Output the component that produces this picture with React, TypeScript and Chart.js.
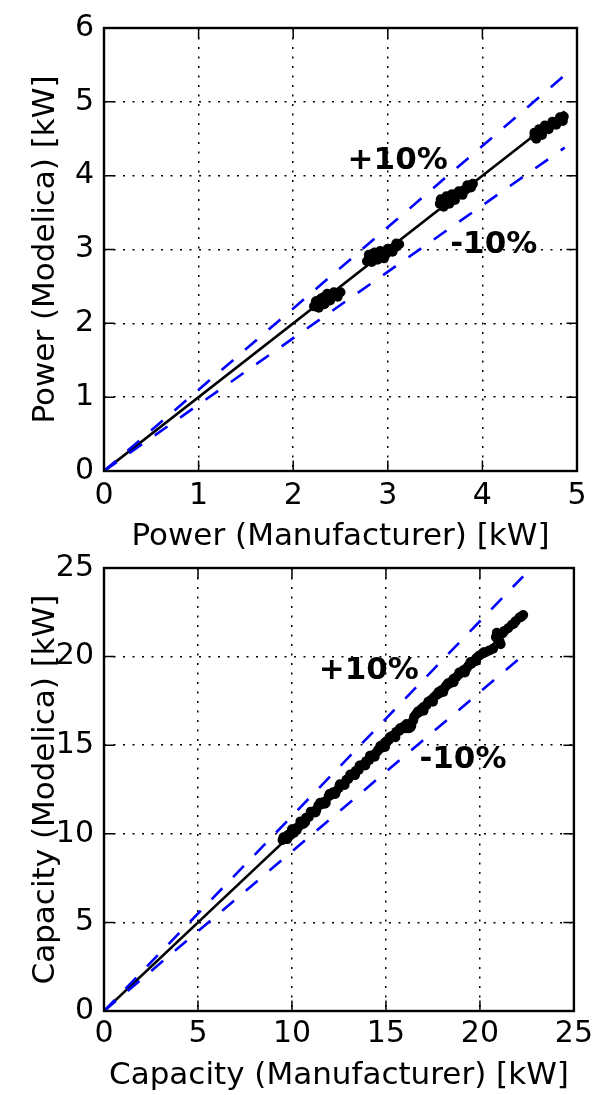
import React, { useEffect, useRef } from "react";
import { Chart, registerables } from "chart.js";

Chart.register(...registerables);

// ---------- Tick labels ----------
const powerTicksX = [0, 1, 2, 3, 4, 5];
const powerTicksY = [0, 1, 2, 3, 4, 5, 6];
const capacityTicksX = [0, 5, 10, 15, 20, 25];
const capacityTicksY = [0, 5, 10, 15, 20, 25];

// ---------- Power data (kW) ----------
const powerManufacturer = [
  2.22, 2.24, 2.26, 2.28, 2.25, 2.3, 2.32, 2.29, 2.34, 2.35, 2.33, 2.37, 2.38, 2.36, 2.4, 2.42, 2.44, 2.46, 2.48, 2.5,
  2.24, 2.27, 2.3, 2.33, 2.36, 2.39, 2.43, 2.47,
  2.78, 2.8, 2.82, 2.84, 2.83, 2.86, 2.88, 2.87, 2.9, 2.92, 2.94, 2.95, 2.97, 3.0, 3.02, 3.04, 3.06, 3.08, 3.1, 3.12,
  2.8, 2.83, 2.86, 2.89, 2.92, 2.96, 3.0, 3.05, 3.09,
  3.55, 3.57, 3.59, 3.6, 3.62, 3.63, 3.65, 3.66, 3.68, 3.7, 3.72, 3.74, 3.76, 3.78, 3.8, 3.82, 3.84, 3.86, 3.88, 3.9,
  3.56, 3.59, 3.62, 3.65, 3.68, 3.71, 3.75, 3.79, 3.84, 3.88,
  4.55, 4.57, 4.58, 4.6, 4.62, 4.63, 4.65, 4.67, 4.69, 4.71, 4.73, 4.75, 4.77, 4.79, 4.81, 4.83, 4.85, 4.86,
  4.55, 4.57, 4.6, 4.63, 4.66, 4.7, 4.74, 4.78, 4.82, 4.85,
];
const powerModelica = [
  2.23, 2.26, 2.24, 2.28, 2.3, 2.27, 2.31, 2.33, 2.29, 2.33, 2.36, 2.32, 2.35, 2.38, 2.36, 2.38, 2.37, 2.4, 2.41, 2.42,
  2.3, 2.21, 2.34, 2.26, 2.4, 2.31, 2.42, 2.36,
  2.84, 2.88, 2.86, 2.9, 2.93, 2.88, 2.92, 2.95, 2.89, 2.93, 2.91, 2.95, 2.92, 2.96, 2.98, 3.0, 3.02, 3.03, 3.05, 3.07,
  2.93, 2.83, 2.96, 2.86, 2.98, 2.88, 3.01, 2.97, 3.08,
  3.62, 3.66, 3.63, 3.68, 3.65, 3.7, 3.67, 3.71, 3.69, 3.72, 3.73, 3.75, 3.76, 3.78, 3.8, 3.81, 3.83, 3.85, 3.87, 3.89,
  3.68, 3.58, 3.72, 3.62, 3.75, 3.67, 3.79, 3.74, 3.87, 3.84,
  4.53, 4.57, 4.54, 4.59, 4.56, 4.61, 4.63, 4.64, 4.66, 4.67, 4.69, 4.7, 4.72, 4.73, 4.75, 4.76, 4.78, 4.8,
  4.58, 4.5, 4.63, 4.55, 4.68, 4.63, 4.73, 4.69, 4.79, 4.74,
];

// ---------- Capacity data (kW) ----------
const capacityManufacturer = [
  9.5, 9.6, 9.7, 9.8, 9.9, 10.0, 10.1, 10.2, 10.35, 10.5,
  10.6, 10.75, 10.9, 11.0, 11.15, 11.3, 11.4, 11.55, 11.7, 11.8,
  11.95, 12.1, 12.2, 12.35, 12.5, 12.6, 12.75, 12.9, 13.0, 13.15,
  13.3, 13.4, 13.55, 13.7, 13.8, 13.95, 14.1, 14.2, 14.35, 14.5,
  14.6, 14.75, 14.9, 15.0, 15.15, 15.3, 15.4, 15.55, 15.7, 15.8,
  15.95, 16.1, 16.2, 16.35, 16.5, 16.6, 16.75, 16.9, 17.0, 17.15,
  17.3, 17.4, 17.55, 17.7, 17.8, 17.95, 18.1, 18.2, 18.35, 18.5,
  18.6, 18.75, 18.9, 19.0, 19.15, 19.3, 19.4, 19.55, 19.7, 19.8,
  19.95, 20.1, 20.3, 20.5, 20.7, 20.85, 20.9, 21.0, 21.1, 21.3,
  21.5, 21.7, 21.9, 22.1, 22.3,
  9.55, 9.75, 10.0, 10.25, 10.45, 10.7, 11.0, 11.25, 11.5, 11.75,
  12.0, 12.3, 12.55, 12.8, 13.1, 13.35, 13.6, 13.9, 14.15, 14.4,
  14.7, 14.95, 15.2, 15.5, 15.75, 16.0, 16.3, 16.45, 16.7, 17.0,
  17.25, 17.5, 17.8, 18.05, 18.3, 18.6, 18.9, 19.2, 19.5, 19.8,
  20.2, 20.95, 21.05, 21.2, 21.8, 22.2,
];
const capacityModelica = [
  9.65, 9.75, 9.7, 9.95, 9.9, 10.1, 10.05, 10.3, 10.4, 10.6,
  10.55, 10.9, 10.95, 11.2, 11.25, 11.35, 11.6, 11.65, 11.8, 11.75,
  12.1, 12.2, 12.35, 12.4, 12.6, 12.75, 12.8, 13.05, 13.1, 13.3,
  13.4, 13.55, 13.6, 13.85, 13.9, 14.1, 14.15, 14.4, 14.45, 14.6,
  14.75, 14.85, 15.1, 15.2, 15.3, 15.5, 15.55, 15.75, 15.8, 15.95,
  16.05, 16.2, 15.95, 16.1, 16.6, 16.75, 16.85, 17.05, 17.15, 17.25,
  17.45, 17.55, 17.7, 17.85, 17.9, 18.1, 18.2, 18.35, 18.45, 18.6,
  18.75, 18.85, 19.0, 19.1, 19.25, 19.35, 19.5, 19.6, 19.75, 19.9,
  20.05, 20.15, 20.25, 20.35, 20.45, 21.1, 21.35, 21.15, 20.7, 21.45,
  21.6, 21.8, 22.0, 22.2, 22.35,
  9.8, 9.7, 10.25, 10.2, 10.7, 10.65, 11.25, 11.2, 11.75, 11.7,
  12.25, 12.25, 12.8, 12.75, 13.35, 13.3, 13.85, 13.85, 14.4, 14.35,
  14.95, 14.9, 15.45, 15.45, 15.95, 15.95, 16.0, 16.4, 16.9, 16.95,
  17.45, 17.45, 18.0, 18.0, 18.5, 18.55, 19.1, 19.1, 19.7, 19.75,
  20.25, 21.0, 20.85, 21.3, 21.85, 22.25,
];

// ---------- Reference lines (1:1 and ±10%) ----------
const powerLineX = [0, 4.87];
const powerLineY = [0, 4.87];
const powerUpperY = [0, 5.36];
const powerLowerY = [0, 4.38];
const capacityLineX = [0, 22.3];
const capacityLineY = [0, 22.3];
const capacityUpperY = [0, 24.53];
const capacityLowerY = [0, 20.07];

// ---------- Annotations (data coordinates, text baseline-left) ----------
const bandLabels = ["+10%", "-10%"];
const powerLabelX = [2.575, 3.66];
const powerLabelY = [4.09, 2.95];
const capacityLabelX = [11.42, 16.78];
const capacityLabelY = [18.74, 13.72];

const FONT = '"DejaVu Sans", "Liberation Sans", sans-serif';

const toPts = (xs: number[], ys: number[]) => xs.map((x, i) => ({ x, y: ys[i] }));

function makeFramePlugin(lx: number[], ly: number[]) {
  return {
    id: "frameAndLabels",
    afterDatasetsDraw(chart: any) {
      const { ctx, chartArea: a, scales } = chart;
      const sx = scales.x;
      const sy = scales.y;
      ctx.save();
      // annotations
      ctx.font = `bold 31px ${FONT}`;
      ctx.fillStyle = "#000";
      ctx.textAlign = "left";
      ctx.textBaseline = "alphabetic";
      bandLabels.forEach((t, i) => {
        ctx.fillText(t, sx.getPixelForValue(lx[i]), sy.getPixelForValue(ly[i]));
      });
      // inward ticks on all four sides
      const L = 10.5;
      ctx.strokeStyle = "#000";
      ctx.lineWidth = 1.5;
      ctx.beginPath();
      sx.ticks.forEach((t: any) => {
        const p = sx.getPixelForValue(t.value);
        ctx.moveTo(p, a.bottom);
        ctx.lineTo(p, a.bottom - L);
        ctx.moveTo(p, a.top);
        ctx.lineTo(p, a.top + L);
      });
      sy.ticks.forEach((t: any) => {
        const p = sy.getPixelForValue(t.value);
        ctx.moveTo(a.left, p);
        ctx.lineTo(a.left + L, p);
        ctx.moveTo(a.right, p);
        ctx.lineTo(a.right - L, p);
      });
      ctx.stroke();
      // frame
      ctx.lineWidth = 2.4;
      ctx.strokeRect(a.left, a.top, a.right - a.left, a.bottom - a.top);
      ctx.restore();
    },
  };
}

interface PanelCfg {
  height: number;
  topPad: number;
  xAxisHeight: number;
  xTickPad: number;
  xTitlePad: number;
  xMax: number;
  yMax: number;
  xTicks: number[];
  yTicks: number[];
  xTitle: string;
  yTitle: string;
  xs: number[];
  ys: number[];
  lineX: number[];
  lineY: number[];
  upperY: number[];
  lowerY: number[];
  labelX: number[];
  labelY: number[];
}

function buildConfig(c: PanelCfg): any {
  const dotted = [2, 7.5];
  return {
    type: "scatter",
    data: {
      datasets: [
        {
          data: toPts(c.lineX, c.upperY),
          showLine: true,
          borderColor: "#0000ff",
          borderWidth: 2.6,
          borderDash: [15.5, 15.5],
          pointRadius: 0,
          fill: false,
        },
        {
          data: toPts(c.lineX, c.lowerY),
          showLine: true,
          borderColor: "#0000ff",
          borderWidth: 2.6,
          borderDash: [15.5, 15.5],
          pointRadius: 0,
          fill: false,
        },
        {
          data: toPts(c.lineX, c.lineY),
          showLine: true,
          borderColor: "#000000",
          borderWidth: 2.6,
          pointRadius: 0,
          fill: false,
        },
        {
          data: toPts(c.xs, c.ys),
          showLine: false,
          pointRadius: 5,
          pointBackgroundColor: "#000000",
          pointBorderWidth: 0,
          pointBorderColor: "#000000",
        },
      ],
    },
    options: {
      animation: false,
      responsive: false,
      maintainAspectRatio: false,
      events: [],
      layout: { padding: { left: 0, right: 21, top: c.topPad, bottom: 0 } },
      plugins: { legend: { display: false }, tooltip: { enabled: false } },
      scales: {
        x: {
          type: "linear",
          min: 0,
          max: c.xMax,
          afterBuildTicks: (s: any) => {
            s.ticks = c.xTicks.map((v) => ({ value: v }));
          },
          afterFit: (s: any) => {
            s.height = c.xAxisHeight;
          },
          ticks: {
            color: "#000",
            font: { family: FONT, size: 30 },
            padding: c.xTickPad,
            maxRotation: 0,
            autoSkip: false,
          },
          grid: { color: "#000", lineWidth: 1.5, drawTicks: false },
          border: { display: false, dash: dotted },
          title: {
            display: true,
            text: c.xTitle,
            color: "#000",
            font: { family: FONT, size: 31 },
            padding: { top: 0, bottom: c.xTitlePad },
          },
        },
        y: {
          type: "linear",
          min: 0,
          max: c.yMax,
          afterBuildTicks: (s: any) => {
            s.ticks = c.yTicks.map((v) => ({ value: v }));
          },
          afterFit: (s: any) => {
            s.width = 104;
          },
          ticks: {
            color: "#000",
            font: { family: FONT, size: 30 },
            padding: 10,
            autoSkip: false,
          },
          grid: { color: "#000", lineWidth: 1.5, drawTicks: false },
          border: { display: false, dash: dotted },
          title: {
            display: true,
            text: c.yTitle,
            color: "#000",
            font: { family: FONT, size: 31 },
            padding: { top: 27, bottom: 0 },
          },
        },
      },
    },
    plugins: [makeFramePlugin(c.labelX, c.labelY)],
  };
}

const powerPanel: PanelCfg = {
  height: 560,
  topPad: 22,
  xAxisHeight: 89,
  xTickPad: 7,
  xTitlePad: 4,
  xMax: 5,
  yMax: 6,
  xTicks: powerTicksX,
  yTicks: powerTicksY,
  xTitle: "Power (Manufacturer) [kW]",
  yTitle: "Power (Modelica) [kW]",
  xs: powerManufacturer,
  ys: powerModelica,
  lineX: powerLineX,
  lineY: powerLineY,
  upperY: powerUpperY,
  lowerY: powerLowerY,
  labelX: powerLabelX,
  labelY: powerLabelY,
};

const capacityPanel: PanelCfg = {
  height: 555,
  topPad: 22,
  xAxisHeight: 84,
  xTickPad: 5,
  xTitlePad: 0.5,
  xMax: 25,
  yMax: 25,
  xTicks: capacityTicksX,
  yTicks: capacityTicksY,
  xTitle: "Capacity (Manufacturer) [kW]",
  yTitle: "Capacity (Modelica) [kW]",
  xs: capacityManufacturer,
  ys: capacityModelica,
  lineX: capacityLineX,
  lineY: capacityLineY,
  upperY: capacityUpperY,
  lowerY: capacityLowerY,
  labelX: capacityLabelX,
  labelY: capacityLabelY,
};

function Panel({ cfg, top }: { cfg: PanelCfg; top: number }) {
  const ref = useRef<HTMLCanvasElement | null>(null);
  useEffect(() => {
    if (!ref.current) return;
    const chart = new Chart(ref.current, buildConfig(cfg));
    return () => chart.destroy();
  }, [cfg]);
  return (
    <canvas
      ref={ref}
      width={598}
      height={cfg.height}
      style={{ position: "absolute", left: 0, top, width: 598, height: cfg.height }}
    />
  );
}

export default function App() {
  return (
    <div
      style={{
        position: "absolute",
        left: 0,
        top: 0,
        width: 598,
        height: 1095,
        background: "#fff",
        overflow: "hidden",
      }}
    >
      <Panel cfg={powerPanel} top={0} />
      <Panel cfg={capacityPanel} top={540} />
    </div>
  );
}
